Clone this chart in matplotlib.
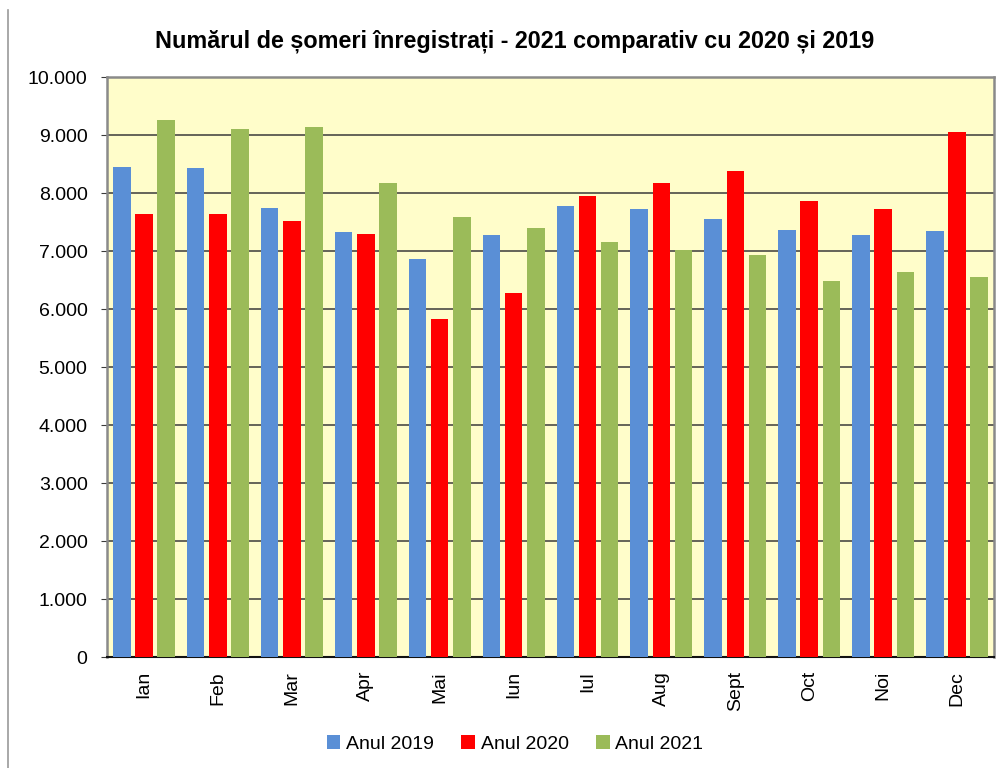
#!/usr/bin/env python3
"""Registered unemployed - 2021 vs 2020 and 2019, grouped bars."""

import matplotlib

matplotlib.use("Agg")
import matplotlib.pyplot as plt
import numpy as np
from matplotlib.lines import Line2D
from matplotlib.ticker import FuncFormatter, MultipleLocator

plt.rcParams["font.family"] = ["Liberation Sans", "DejaVu Sans"]

months = ["Ian", "Feb", "Mar", "Apr", "Mai", "Iun", "Iul", "Aug", "Sept", "Oct", "Noi", "Dec"]
series_names = ["Anul 2019", "Anul 2020", "Anul 2021"]
anul_2019 = [8450, 8440, 7750, 7330, 6860, 7270, 7780, 7720, 7560, 7370, 7280, 7340]
anul_2020 = [7630, 7630, 7510, 7300, 5820, 6280, 7950, 8180, 8380, 7860, 7720, 9050]
anul_2021 = [9260, 9100, 9130, 8170, 7580, 7390, 7160, 7020, 6930, 6480, 6640, 6560]
colors = ["#5A8FD6", "#FF0000", "#9BBB59"]

title = "Numărul de șomeri înregistrați - 2021 comparativ cu 2020 și 2019"


def thousands(v, _pos):
    return f"{int(v):,}".replace(",", ".")


def main() -> None:
    fig = plt.figure(figsize=(10.06, 7.68), dpi=100)
    ax = fig.add_axes([0.1064, 0.1445, 0.8817, 0.7552])
    ax.set_facecolor("#FFFDCA")

    x = np.arange(len(months))
    width = 0.237
    step = 0.3
    for i, (vals, name) in enumerate(zip([anul_2019, anul_2020, anul_2021], series_names)):
        ax.bar(x + (i - 1) * step, vals, width=width, color=colors[i], label=name, zorder=3)

    ax.set_xlim(-0.5, len(months) - 0.5)
    ax.set_ylim(0, 10000)
    ax.yaxis.set_major_locator(MultipleLocator(1000))
    ax.yaxis.set_major_formatter(FuncFormatter(thousands))
    ax.grid(axis="y", color="#3a3a3a", linewidth=1.1, zorder=1)
    ax.set_axisbelow(True)

    ax.set_xticks(x)
    ax.set_xticklabels(months, rotation=90, fontsize=14)
    ax.tick_params(axis="x", length=0, pad=10)
    ax.tick_params(axis="y", labelsize=14, length=4, color="#3a3a3a", pad=10)

    for side in ("left", "top", "right"):
        ax.spines[side].set_color("#8a8a8a")
        ax.spines[side].set_linewidth(1.8)
    ax.spines["bottom"].set_color("#111111")
    ax.spines["bottom"].set_linewidth(1.5)

    fig.text(0.512, 0.946, title, ha="center", va="center", fontsize=16.8, fontweight="bold")

    fig.legend(
        loc="center",
        bbox_to_anchor=(0.512, 0.031),
        ncol=3,
        frameon=False,
        fontsize=14,
        handlelength=0.7,
        handleheight=0.7,
        handletextpad=0.3,
        columnspacing=1.4,
    )

    # page border on the left
    fig.add_artist(Line2D([8 / 1006, 8 / 1006], [0, 758 / 768], color="#9a9a9a", linewidth=1.2))

    fig.savefig("out.png", dpi=100)
    plt.close(fig)


if __name__ == "__main__":
    main()
